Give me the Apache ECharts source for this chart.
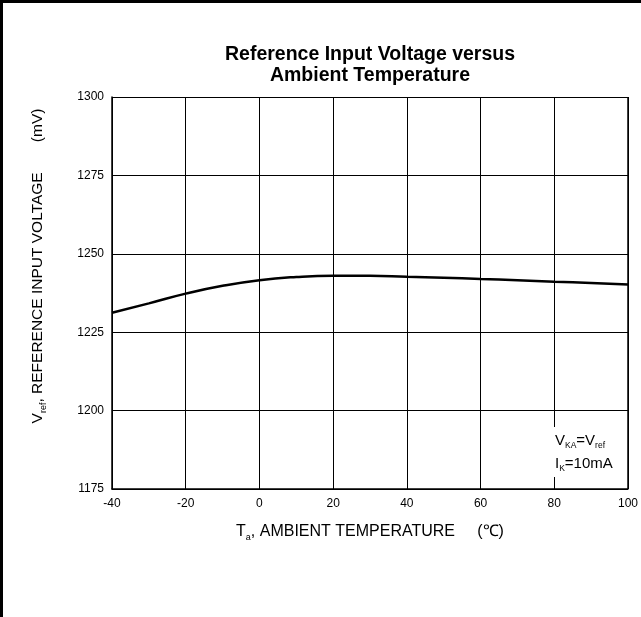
<!DOCTYPE html>
<html>
<head>
<meta charset="utf-8">
<script src="https://cdn.jsdelivr.net/npm/echarts@6/dist/echarts.min.js"></script>
<style>
html,body{margin:0;padding:0;background:#fff;}
#c{width:641px;height:617px;}
</style>
</head>
<body>
<div id="c"></div>
<script>
var temperatures = [-40, -30, -20, -10, 0, 10, 20, 30, 40, 50, 60, 70, 80, 90, 100];
var vref = [1231.2, 1234.2, 1237.3, 1239.8, 1241.6, 1242.6, 1243.0, 1243.0, 1242.7, 1242.4, 1242.0, 1241.6, 1241.1, 1240.7, 1240.2];
var xTicks = [-40, -20, 0, 20, 40, 60, 80, 100];
var yTicks = [1175, 1200, 1225, 1250, 1275, 1300];

var F = '"Liberation Sans", Arial, sans-serif';
var chart = echarts.init(document.getElementById('c'), null, {renderer: 'canvas'});
var data = temperatures.map(function (t, i) { return [t, vref[i]]; });

chart.setOption({
  animation: false,
  backgroundColor: '#fff',
  title: {
    text: 'Reference Input Voltage versus\nAmbient Temperature',
    left: 365, top: 39, textAlign: 'center',
    textStyle: {fontFamily: F, fontSize: 19.5, fontWeight: 'bold', color: '#000', lineHeight: 21}
  },
  grid: {left: 112, top: 97, width: 516, height: 392, show: false},
  xAxis: {
    type: 'value', min: xTicks[0], max: xTicks[xTicks.length - 1], interval: 20,
    axisLine: {show: true, onZero: false, lineStyle: {color: '#000', width: 1.5}},
    axisTick: {show: false},
    splitLine: {show: true, lineStyle: {color: '#000', width: 1}},
    axisLabel: {fontFamily: F, fontSize: 12, color: '#000', margin: 9, formatter: function (v) { return String(v); }},
    name: '{t|T}{s|a}{t|, AMBIENT TEMPERATURE     (\u2103)}',
    nameLocation: 'middle', nameGap: 33,
    nameTextStyle: {
      rich: {
        t: {fontFamily: F, fontSize: 16, color: '#000'},
        s: {fontFamily: F, fontSize: 9, color: '#000', padding: [11, 0, 0, 0]}
      }
    }
  },
  yAxis: {
    type: 'value', min: yTicks[0], max: yTicks[yTicks.length - 1], interval: 25,
    axisLine: {show: true, onZero: false, lineStyle: {color: '#000', width: 1.5}},
    axisTick: {show: false},
    splitLine: {show: true, lineStyle: {color: '#000', width: 1}},
    axisLabel: {fontFamily: F, fontSize: 12, color: '#000', margin: 8, formatter: function (v) { return String(v); }},
    name: '{t|V}{s|ref}{t|, REFERENCE INPUT VOLTAGE       (mV)}',
    nameLocation: 'middle', nameGap: 64, nameRotate: 90,
    nameTextStyle: {
      padding: [0, 0, 0, 54],
      rich: {
        t: {fontFamily: F, fontSize: 15.5, color: '#000'},
        s: {fontFamily: F, fontSize: 9, color: '#000', padding: [11, 0, 0, 0]}
      }
    }
  },
  graphic: [
    {type: 'rect', left: 0, top: 0, shape: {width: 641, height: 3}, style: {fill: '#000'}, z: 100},
    {type: 'rect', left: 0, top: 0, shape: {width: 3, height: 617}, style: {fill: '#000'}, z: 100},
    {type: 'line', shape: {x1: 628, y1: 97, x2: 628, y2: 489}, style: {stroke: '#000', lineWidth: 1.5}, z: 100},
    {
      type: 'text', left: 551, top: 427, z: 50,
      style: {
        text: '{t|V}{s|KA}{t|=V}{s|ref}\n{t|I}{s|K}{t|=10mA}',
        backgroundColor: '#fff', padding: [2, 2, 2, 4],
        rich: {
          t: {fontFamily: F, fontSize: 15, fill: '#000', lineHeight: 23},
          s: {fontFamily: F, fontSize: 8.5, fill: '#000', padding: [11, 0, 0, 0], lineHeight: 23}
        }
      }
    }
  ],
  series: [{
    type: 'line', data: data, smooth: true, showSymbol: false,
    lineStyle: {color: '#000', width: 2.5}, z: 10
  }]
});
</script>
</body>
</html>
